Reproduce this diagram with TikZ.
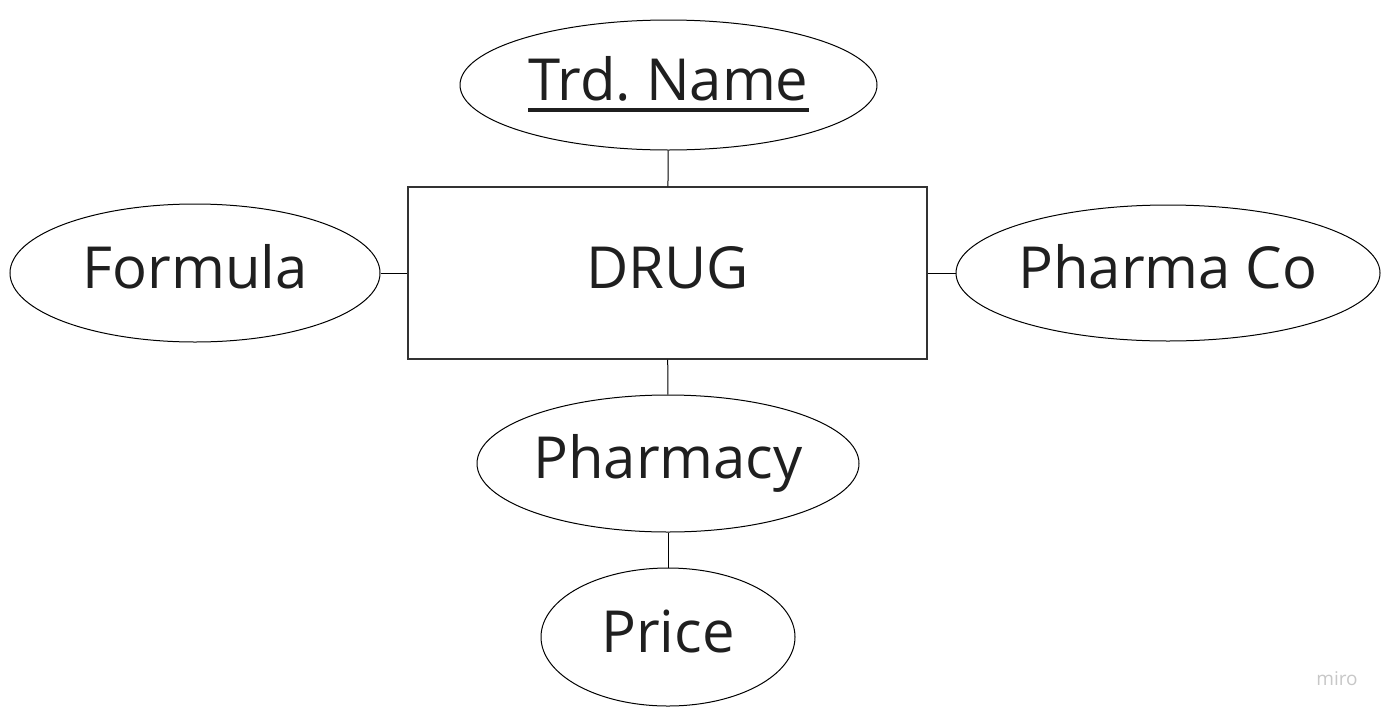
\documentclass[tikz,border=0pt]{standalone}
\usepackage{fontspec}
\setmainfont{Open Sans}
\usetikzlibrary{shapes.geometric}
\frenchspacing

% key attribute: text with a heavy rule under it
\newcommand{\keyattr}[1]{\setbox0\hbox{#1}\rlap{\rule[-6pt]{\wd0}{2pt}}\box0}

\begin{document}
\begin{tikzpicture}[x=0.5pt,y=-0.5pt]
\tikzstyle{attr}=[ellipse,draw,line width=0.5pt,inner sep=0pt,text height=21pt,text depth=6pt,font=\fontsize{29}{34}\selectfont,text=black!88];
\tikzstyle{entity}=[rectangle,draw=black!80,line width=0.6pt,inner sep=0pt,minimum width=259.5pt,minimum height=86pt,text height=21pt,text depth=6pt,font=\fontsize{29}{34}\selectfont,text=black!88];
\tikzstyle{link}=[draw,line width=0.5pt];

\useasboundingbox (0,0) rectangle (1391,718);

\node [entity] (drug) at (667.5,273) {DRUG};

\node [attr,minimum width=208.5pt,minimum height=65pt] (trd) at (668.5,85) {\keyattr{Trd. Name}};
\node [attr,minimum width=185pt,minimum height=69pt] (form) at (195,273) {Formula};
\node [attr,minimum width=212pt,minimum height=68pt] (phco) at (1168,273) {Pharma Co};
\node [attr,minimum width=191pt,minimum height=68.5pt] (phar) at (668,463.5) {Pharmacy};
\node [attr,minimum width=127pt,minimum height=69pt] (price) at (668,637) {Price};

\draw [link] (trd) -- (drug);
\draw [link] (form) -- (drug);
\draw [link] (phco) -- (drug);
\draw [link] (drug) -- (phar);
\draw [link] (phar) -- (price);

\node [font=\fontsize{9.5}{11}\selectfont,text=black!22] (miro) at (1337,679) {miro};
\end{tikzpicture}
\end{document}
